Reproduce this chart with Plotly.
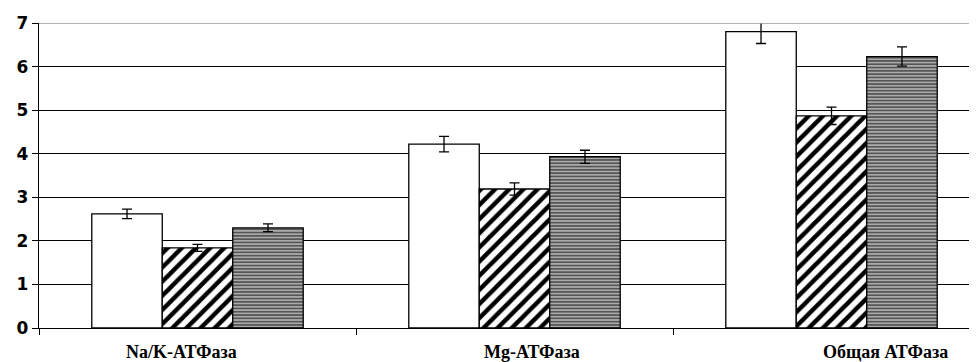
import plotly.graph_objects as go

categories = ["Na/K-АТФаза", "Mg-АТФаза", "Общая АТФаза"]
series1 = [2.62, 4.22, 6.80]
series1_err = [0.11, 0.18, 0.27]
series2 = [1.84, 3.19, 4.87]
series2_err = [0.08, 0.14, 0.20]
series3 = [2.30, 3.93, 6.23]
series3_err = [0.09, 0.15, 0.22]
label_positions = [-0.052, 1.055, 2.169]
y_ticks = [0, 1, 2, 3, 4, 5, 6, 7]

x_idx = list(range(len(categories)))

def err(vals):
    return dict(type="data", array=vals, visible=True, color="black", thickness=1.3, width=5)

fig = go.Figure()
fig.add_trace(go.Bar(x=x_idx, y=series1, error_y=err(series1_err),
                     marker=dict(color="white", line=dict(color="black", width=1.3))))
fig.add_trace(go.Bar(x=x_idx, y=series2, error_y=err(series2_err),
                     marker=dict(color="white", line=dict(color="black", width=1.3),
                                 pattern=dict(shape="/", fgcolor="black", bgcolor="white",
                                              fgopacity=1, size=10, solidity=0.45))))
fig.add_trace(go.Bar(x=x_idx, y=series3, error_y=err(series3_err),
                     marker=dict(color="white", line=dict(color="black", width=1.3),
                                 pattern=dict(shape="-", fgcolor="black", bgcolor="#aaaaaa",
                                              size=3.3, solidity=0.5))))

for pos, lab in zip(label_positions, categories):
    fig.add_annotation(x=pos, y=-0.079, xref="x", yref="paper", text="<b>" + lab + "</b>",
                       showarrow=False, yanchor="middle", xanchor="center",
                       font=dict(family="Liberation Serif", size=18, color="black"))

fig.add_shape(type="line", xref="paper", yref="y", x0=0, x1=1, y0=7, y1=7,
              line=dict(color="#9a9a9a", width=1.5), layer="above")

fig.update_layout(
    width=969, height=354,
    margin=dict(l=31, r=0, t=15, b=34),
    paper_bgcolor="white", plot_bgcolor="white",
    barmode="group", bargap=0.333, bargroupgap=0,
    showlegend=False,
)
fig.update_xaxes(type="linear", range=[-0.5, 2.459], tickvals=[-0.5, 0.5, 1.5, 2.5],
                 showticklabels=False, ticks="outside", ticklen=6, tickcolor="black", tickwidth=1.3,
                 showline=True, linecolor="black", linewidth=1.3, showgrid=False, zeroline=False)
fig.update_yaxes(range=[0, 7], tickvals=y_ticks, ticks="outside", ticklen=6, tickcolor="black",
                 tickwidth=1.3, showline=True, linecolor="black", linewidth=1.3,
                 showgrid=True, gridcolor="black", gridwidth=1.3, zeroline=False,
                 tickfont=dict(family="DejaVu Sans", size=17, color="black", weight="bold"))

fig.write_html("out.html")
